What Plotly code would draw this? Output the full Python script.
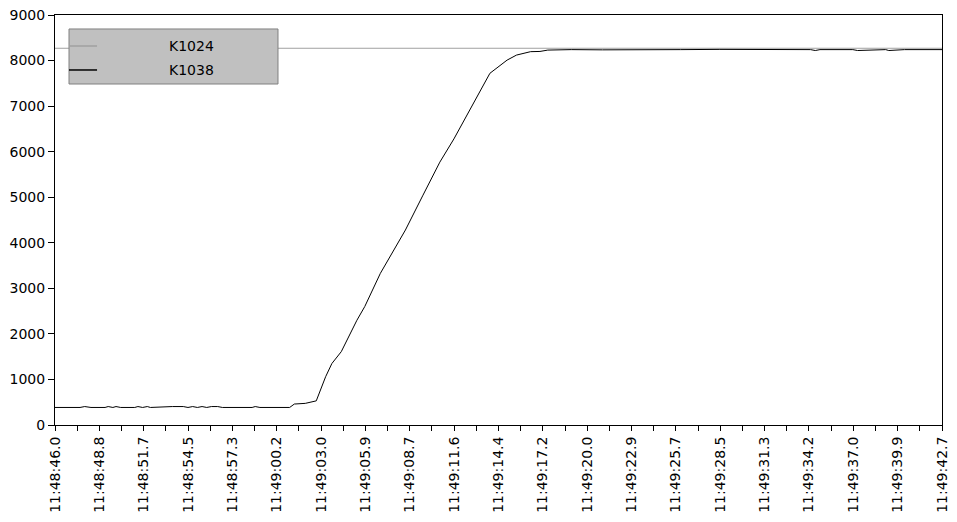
import plotly.graph_objects as go

# ---- data ----
tick_labels = ["11:48:46.0", "11:48:48.8", "11:48:51.7", "11:48:54.5", "11:48:57.3",
               "11:49:00.2", "11:49:03.0", "11:49:05.9", "11:49:08.7", "11:49:11.6",
               "11:49:14.4", "11:49:17.2", "11:49:20.0", "11:49:22.9", "11:49:25.7",
               "11:49:28.5", "11:49:31.3", "11:49:34.2", "11:49:37.0", "11:49:39.9",
               "11:49:42.7"]
span_seconds = 56.7  # 11:48:46.0 -> 11:49:42.7

# seconds after 11:48:46.0
k1038_t = [0.0, 1.6, 1.9, 2.3, 3.2, 3.4, 3.7, 3.9, 4.2, 5.1, 5.3, 5.6, 5.9, 6.1,
           7.5, 8.2, 8.5, 8.8, 9.1, 9.4, 9.7, 10.0, 10.4, 10.7, 12.6, 12.8, 13.1,
           15.0, 15.3, 16.0, 16.7, 17.3, 17.7, 18.3, 19.3, 19.8, 20.8, 21.3, 21.8,
           22.4, 23.5, 24.6, 25.5, 26.2, 27.1, 27.8, 28.9, 29.5, 30.4, 31.0, 31.5,
           33.0, 35.0, 37.5, 40.0, 42.5, 45.0, 48.3, 48.6, 48.9, 51.0, 51.3,
           53.1, 53.3, 54.3, 56.7]
k1038_v = [385, 385, 405, 385, 385, 405, 385, 405, 385, 385, 405, 385, 405, 385,
           405, 405, 385, 405, 385, 405, 385, 405, 405, 385, 385, 405, 385,
           385, 460, 475, 530, 1060, 1350, 1610, 2300, 2600, 3330, 3620, 3935,
           4280, 5030, 5770, 6280, 6720, 7300, 7720, 8010, 8120, 8195, 8200, 8230,
           8240, 8235, 8245, 8240, 8245, 8240, 8240, 8220, 8240, 8240, 8220,
           8240, 8220, 8240, 8240]

k1024_t = [0.0, 56.7]
k1024_v = [8270, 8270]

series_names = ["K1024", "K1038"]
series_colors = ["#a0a0a0", "#000000"]

# ---- figure ----
fig = go.Figure()
fig.add_trace(go.Scatter(x=k1024_t, y=k1024_v, mode="lines", name=series_names[0],
                         line=dict(color=series_colors[0], width=1), showlegend=False))
fig.add_trace(go.Scatter(x=k1038_t, y=k1038_v, mode="lines", name=series_names[1],
                         line=dict(color=series_colors[1], width=1), showlegend=False))

n = len(tick_labels) - 1
step = span_seconds / n
major_vals = [i * step for i in range(n + 1)]
minor_vals = [(i + 0.5) * step for i in range(n)]

font = dict(family="DejaVu Sans", size=14, color="#000000")

fig.update_layout(
    width=957, height=522,
    margin=dict(l=55, r=15, t=15, b=97),
    paper_bgcolor="white", plot_bgcolor="white",
    font=font,
    xaxis=dict(range=[0, span_seconds], tickmode="array", tickvals=major_vals,
               ticktext=tick_labels, tickangle=-90, ticks="outside", ticklen=5,
               tickcolor="black", showgrid=False, zeroline=False, showline=True,
               linecolor="black", linewidth=1, mirror=True, automargin=False,
               minor=dict(tickmode="array", tickvals=minor_vals, ticks="outside",
                          ticklen=5, tickcolor="black", showgrid=False)),
    yaxis=dict(range=[0, 9000], dtick=1000, ticks="outside", ticklen=6,
               tickcolor="black", showgrid=False, zeroline=False, showline=True,
               linecolor="black", linewidth=1, mirror=True, automargin=False),
)

# custom legend box (drawn over the lines, as in the original)
box = dict(x0=0.0158, x1=0.2514, y0=0.8317, y1=0.9659)
fig.add_shape(type="rect", xref="paper", yref="paper", layer="above",
              fillcolor="#c0c0c0", line=dict(color="#808080", width=1), **box)
legend_rows_y = [0.9244, 0.8659]
for name, color, yy in zip(series_names, series_colors, legend_rows_y):
    fig.add_shape(type="line", xref="paper", yref="paper", layer="above",
                  x0=0.0158, x1=0.0474, y0=yy, y1=yy,
                  line=dict(color=color, width=1.5))
    fig.add_annotation(xref="paper", yref="paper", x=0.1263, y=yy, text=name,
                       showarrow=False, xanchor="left", yanchor="middle",
                       font=font)

fig.write_html("out.html",
               config={"displayModeBar": False},
               post_script="document.body.style.margin='0';document.body.style.overflow='hidden';")
